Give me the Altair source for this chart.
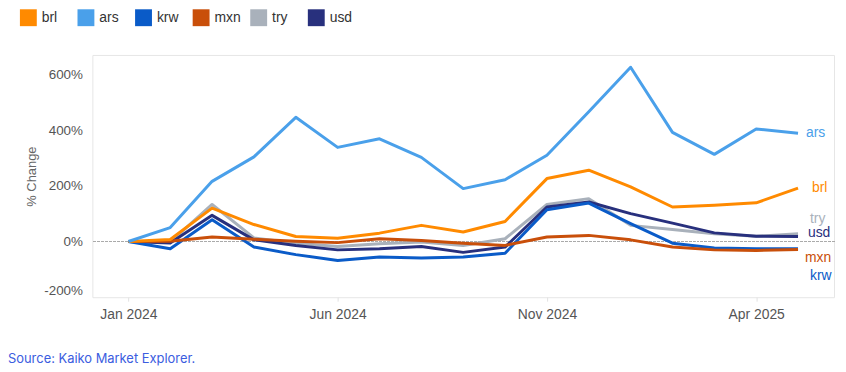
import altair as alt
import pandas as pd

months = ["Jan 2024", "Feb 2024", "Mar 2024", "Apr 2024", "May 2024", "Jun 2024",
          "Jul 2024", "Aug 2024", "Sep 2024", "Oct 2024", "Nov 2024", "Dec 2024",
          "Jan 2025", "Feb 2025", "Mar 2025", "Apr 2025", "May 2025"]
currencies = ["brl", "ars", "krw", "mxn", "try", "usd"]
colors = ["#ff8a00", "#4aa0ea", "#0a5bc8", "#c94f0a", "#a9b1bb", "#28307d"]

brl = [0, 7, 120, 61, 18, 12, 30, 58, 34, 72, 226, 256, 196, 124, 130, 139, 192]
ars = [0, 50, 216, 304, 446, 338, 369, 302, 190, 222, 310, 466, 626, 392, 313, 404, 389]
krw = [0, -26, 78, -20, -47, -68, -56, -59, -56, -42, 114, 138, 64, -6, -23, -26, -26]
mxn = [0, 1, 16, 8, 1, -4, 10, 4, -6, -14, 16, 22, 6, -20, -30, -32, -29]
try_ = [0, -2, 133, 13, -6, -18, -8, -2, -14, 10, 133, 154, 58, 43, 28, 19, 28]
usd = [0, -5, 94, 6, -14, -30, -26, -18, -39, -20, 124, 142, 100, 66, 31, 19, 18]

x_ticks = ["Jan 2024", "Jun 2024", "Nov 2024", "Apr 2025"]
y_ticks = [-200, 0, 200, 400, 600]
source = "Source: Kaiko Market Explorer."

series = {"brl": brl, "ars": ars, "krw": krw, "mxn": mxn, "try": try_, "usd": usd}
draw_order = ["try", "usd", "krw", "mxn", "brl", "ars"]
rows = []
for c in draw_order:
    for m, v in zip(months, series[c]):
        rows.append({"month": m, "currency": c, "value": v})
df = pd.DataFrame(rows)

FONT = "Liberation Sans"
color_scale = alt.Scale(domain=currencies, range=colors)

x_enc = alt.X("month:O", sort=months,
              scale=alt.Scale(type="point", domain=months, padding=0.86),
              axis=alt.Axis(values=x_ticks, labelAngle=0, title=None, domain=False,
                            ticks=True, tickColor="#e2e2e2", tickSize=4, grid=False,
                            labelColor="#555555", labelFontSize=14, labelPadding=6,
                            labelFont=FONT))
y_enc = alt.Y("value:Q",
              scale=alt.Scale(domain=[-200, 670], nice=False, zero=False),
              axis=alt.Axis(values=y_ticks, labelExpr="datum.value + '%'",
                            title="% Change", titleFontWeight="normal", titleFontSize=13,
                            titleColor="#666666", titleFont=FONT, titleX=-61, titleY=122,
                            titleBaseline="middle", titleAngle=-90,
                            labelColor="#555555", labelFontSize=13.5, labelFont=FONT,
                            ticks=False, domain=False, gridColor="#ececec", gridWidth=1,
                            labelPadding=10, labelFlush=True))

zero = alt.Chart(df).mark_rule(color="#aaaaaa", strokeDash=[2, 2], strokeWidth=1).encode(
    y=alt.datum(0))

legend_layer = alt.Chart(df).transform_filter("false").mark_square(
    filled=True, size=289, opacity=1).encode(
    x=x_enc, y=y_enc,
    color=alt.Color("currency:N", scale=color_scale,
                    legend=alt.Legend(orient="none", legendX=-73, legendY=-46,
                                      direction="horizontal", columns=6, gridAlign="all",
                                      symbolType="square", symbolSize=289,
                                      symbolStrokeWidth=0, labelFontSize=14,
                                      labelColor="#333333", labelFont=FONT, title=None,
                                      columnPadding=9, labelOffset=5, padding=0)))

lines = alt.Chart(df).mark_line(strokeWidth=3, strokeJoin="round").encode(
    x=x_enc, y=y_enc,
    color=alt.Color("currency:N", scale=color_scale, legend=None),
    detail="currency:N")

label_dx = {"ars": 8, "brl": 14, "try": 12, "usd": 10, "mxn": 7, "krw": 12}
label_dy = {"ars": 0, "brl": 0, "try": -15, "usd": -3, "mxn": 9, "krw": 27}
labels = []
for c, col in zip(currencies, colors):
    labels.append(
        alt.Chart(df).transform_filter(
            (alt.datum.currency == c) & (alt.datum.month == months[-1])
        ).mark_text(align="left", baseline="middle", fontSize=14, font=FONT, color=col,
                    dx=label_dx[c], dy=label_dy[c]).encode(
            x=alt.X("month:O", sort=months), y="value:Q", text="currency:N"))

src = alt.Chart(pd.DataFrame({"t": [source]})).mark_text(
    align="left", baseline="middle", fontSize=13, font="Inter", color="#3b5de0"
).encode(x=alt.value(-85), y=alt.value(306), text="t:N")

chart = alt.layer(zero, legend_layer, lines, *labels, src).resolve_legend(
    color="independent"
).properties(
    width=747, height=244,
    autosize=alt.AutoSizeParams(type="none"),
    padding={"left": 85, "top": 46, "right": 4, "bottom": 68},
).configure_view(stroke="#e6e6e6", strokeWidth=1)

chart.save("out.html", embed_options={"renderer": "svg", "actions": False})
